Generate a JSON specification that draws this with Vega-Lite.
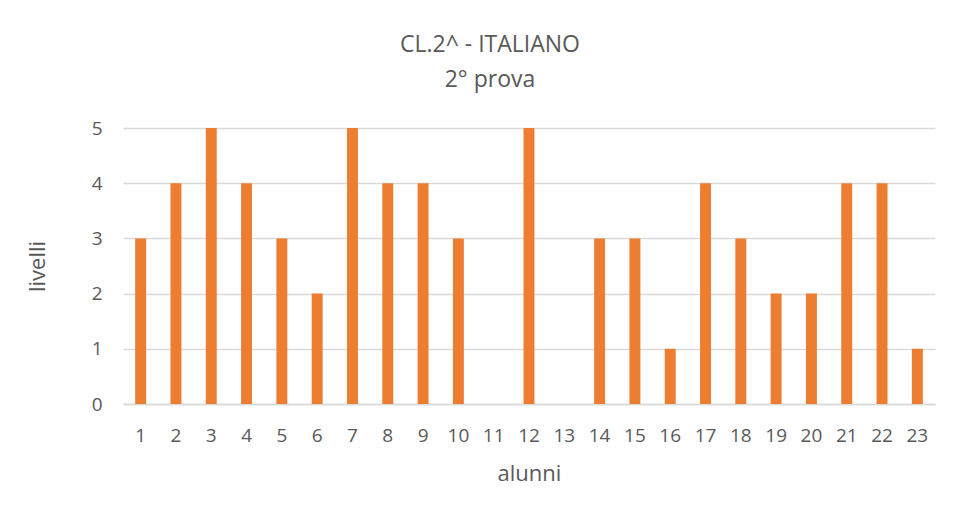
{
  "$schema": "https://vega.github.io/schema/vega-lite/v6.json",
  "autosize": {"type": "none"},
  "width": 812,
  "height": 276,
  "padding": {"left": 123, "top": 128, "right": 23, "bottom": 115},
  "background": "white",
  "title": {
    "text": ["CL.2^ - ITALIANO", "2° prova"],
    "font": "Open Sans",
    "fontSize": 23,
    "fontWeight": "normal",
    "color": "#595959",
    "lineHeight": 35,
    "anchor": "middle",
    "dx": -39,
    "offset": 27
  },
  "data": {
    "values": [
      {"alunno": "1", "livello": 3},
      {"alunno": "2", "livello": 4},
      {"alunno": "3", "livello": 5},
      {"alunno": "4", "livello": 4},
      {"alunno": "5", "livello": 3},
      {"alunno": "6", "livello": 2},
      {"alunno": "7", "livello": 5},
      {"alunno": "8", "livello": 4},
      {"alunno": "9", "livello": 4},
      {"alunno": "10", "livello": 3},
      {"alunno": "11", "livello": 0},
      {"alunno": "12", "livello": 5},
      {"alunno": "13", "livello": 0},
      {"alunno": "14", "livello": 3},
      {"alunno": "15", "livello": 3},
      {"alunno": "16", "livello": 1},
      {"alunno": "17", "livello": 4},
      {"alunno": "18", "livello": 3},
      {"alunno": "19", "livello": 2},
      {"alunno": "20", "livello": 2},
      {"alunno": "21", "livello": 4},
      {"alunno": "22", "livello": 4},
      {"alunno": "23", "livello": 1}
    ]
  },
  "mark": {"type": "bar", "color": "#ED7D31"},
  "encoding": {
    "x": {
      "field": "alunno",
      "type": "ordinal",
      "sort": null,
      "title": "alunni",
      "scale": {"paddingInner": 0.69, "paddingOuter": 0.345},
      "axis": {
        "labelAngle": 0,
        "labelFont": "Open Sans",
        "labelFontSize": 19,
        "labelColor": "#595959",
        "labelPadding": 22,
        "labelOverlap": false,
        "ticks": false,
        "domainColor": "#D9D9D9",
        "domainWidth": 1.5,
        "titleFont": "Open Sans",
        "titleFontSize": 22,
        "titleFontWeight": "normal",
        "titleColor": "#595959",
        "titlePadding": 18
      }
    },
    "y": {
      "field": "livello",
      "type": "quantitative",
      "title": "livelli",
      "scale": {"domain": [0, 5], "nice": false},
      "axis": {
        "values": [0, 1, 2, 3, 4, 5],
        "labelOverlap": false,
        "domain": false,
        "ticks": false,
        "gridColor": "#D9D9D9",
        "gridWidth": 1.5,
        "labelFont": "Open Sans",
        "labelFontSize": 19,
        "labelColor": "#595959",
        "labelPadding": 21,
        "titleFont": "Open Sans",
        "titleFontSize": 22,
        "titleFontWeight": "normal",
        "titleColor": "#595959",
        "titlePadding": 42
      }
    }
  },
  "config": {"view": {"stroke": null}}
}
